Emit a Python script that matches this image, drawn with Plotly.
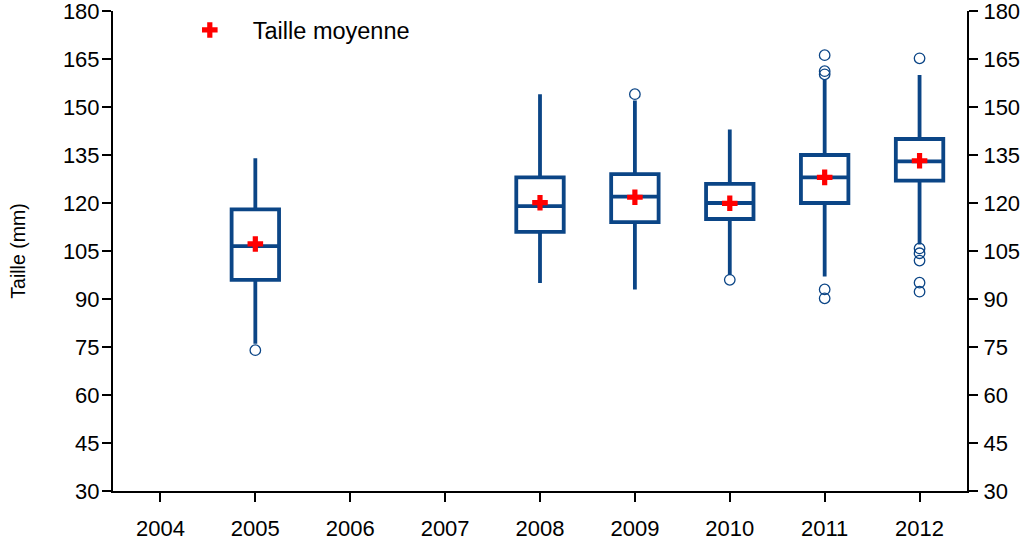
import plotly.graph_objects as go

years = ["2004", "2005", "2006", "2007", "2008", "2009", "2010", "2011", "2012"]

box_years = ["2005", "2008", "2009", "2010", "2011", "2012"]
low_whisker = [76, 95, 93, 97.5, 97, 107]
q1 = [96, 111, 114, 115, 120, 127]
median = [106.5, 119, 122, 120, 128, 133]
q3 = [118, 128, 129, 126, 135, 140]
high_whisker = [134, 154, 152, 143, 158.5, 160]

mean_size = [107.2, 120.1, 121.8, 119.9, 128, 133.2]

outlier_years = ["2005", "2009", "2010", "2011", "2011", "2011", "2011", "2011",
                 "2012", "2012", "2012", "2012", "2012", "2012"]
outlier_vals = [74, 154, 96, 166.2, 161.2, 160.2, 93, 90.2,
                165.2, 105.8, 104.3, 102, 95.1, 92.3]

blue = "#0b4586"
font = "Liberation Sans, Arial, sans-serif"

fig = go.Figure()

for i, yr in enumerate(box_years):
    fig.add_trace(go.Box(
        x=[yr], q1=[q1[i]], median=[median[i]], q3=[q3[i]],
        lowerfence=[low_whisker[i]], upperfence=[high_whisker[i]],
        boxpoints=False, width=0.5, whiskerwidth=0,
        fillcolor="white", line=dict(color=blue, width=3.8),
        showlegend=False, hoverinfo="skip"))

fig.add_trace(go.Scatter(
    x=outlier_years, y=outlier_vals, mode="markers",
    marker=dict(symbol="circle-open", size=10.5, color=blue, line=dict(width=1.3)),
    showlegend=False))

fig.add_trace(go.Scatter(
    x=box_years, y=mean_size, mode="markers", name="Taille moyenne",
    marker=dict(symbol="cross", size=13, color="red", line=dict(width=0))))

# empty trace so the right-hand axis gets drawn
fig.add_trace(go.Scatter(x=[], y=[], yaxis="y2", showlegend=False, hoverinfo="skip"))

axis_common = dict(showline=True, linecolor="black", linewidth=2,
                   ticks="outside", ticklen=9, tickwidth=1.5, tickcolor="black",
                   showgrid=False, zeroline=False, automargin=False,
                   ticklabeloverflow="allow")

fig.update_layout(
    width=1024, height=546,
    margin=dict(l=113, r=57, t=11, b=55, autoexpand=False),
    plot_bgcolor="white", paper_bgcolor="white",
    font=dict(family=font, size=22, color="black"),
    legend=dict(x=0.063, y=0.96, xanchor="left", yanchor="middle",
                bgcolor="rgba(0,0,0,0)", itemwidth=76, font=dict(size=23.5)),
    xaxis=dict(type="category", categoryorder="array", categoryarray=years,
               range=[-0.5, 8.5], ticklabelstandoff=8, **axis_common),
    yaxis=dict(range=[30, 180], tickvals=list(range(30, 181, 15)),
               ticklabelstandoff=-2,
               title=dict(text="Taille (mm)", standoff=32, font=dict(size=19.5)),
               **axis_common),
    yaxis2=dict(range=[30, 180], tickvals=list(range(30, 181, 15)),
                overlaying="y", side="right", anchor="x",
                ticklabelstandoff=1, **axis_common),
)

fig.write_html("out.html", config={"displayModeBar": False},
               post_script="document.body.style.margin='0';")
